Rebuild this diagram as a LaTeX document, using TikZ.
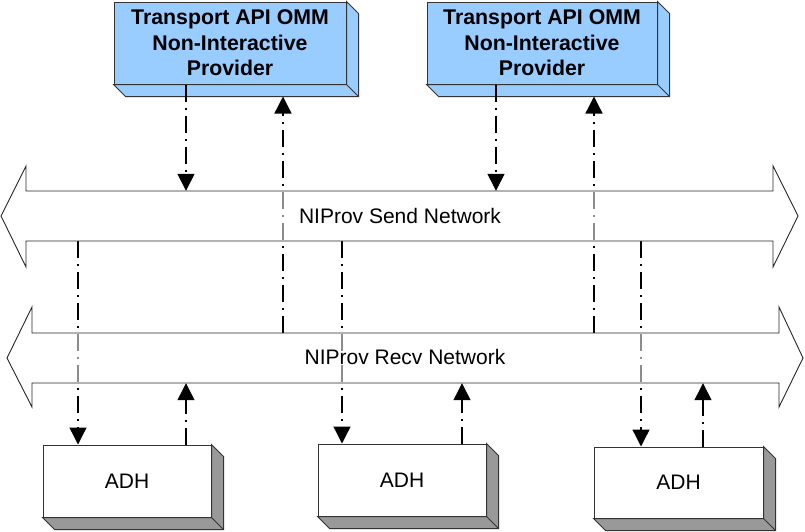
\documentclass[tikz,border=0pt]{standalone}
\usepackage{fontspec}
\setmainfont{Liberation Sans}
\usetikzlibrary{arrows.meta}
\definecolor{provblue}{HTML}{99CCFF}
\definecolor{edgegray}{HTML}{333333}
\definecolor{adhside}{HTML}{999999}
\tikzset{
  provbox/.style={draw=edgegray, fill=provblue, line width=1pt, minimum width=232pt, minimum height=82pt, inner sep=0pt, align=center, font=\fontsize{21.3}{25.5}\selectfont\bfseries},
  adhbox/.style={draw=edgegray, fill=white, line width=1pt, minimum width=168pt, minimum height=72pt, inner sep=0pt, font=\fontsize{21}{24}\selectfont},
  netshape/.style={draw=black!85, line width=0.9pt, fill=white, fill opacity=0.55, line join=miter},
  netlabel/.style={font=\fontsize{21}{24}\selectfont, inner sep=0pt},
  conn/.style={line width=1.3pt, dash pattern=on 17pt off 6pt on 2pt off 6pt, -{Triangle[width=17pt,length=17pt]}},
}
\newcommand\boxdepth[2]{%
  \draw[draw=edgegray, fill=#2, line width=1pt, line join=miter]
    (#1.north east) -- ++(12,12) -- ([shift={(12,12)}]#1.south east)
    -- ([shift={(12,12)}]#1.south west) -- (#1.south west) -- (#1.south east) -- cycle
    (#1.south east) -- ++(12,12);}
\begin{document}
\begin{tikzpicture}[x=1pt,y=-1pt]
\useasboundingbox (0,0) rectangle (805,531);

% providers
\node[provbox] (p1) at (230,43) {Transport API OMM\\Non-Interactive\\Provider};
\node[provbox, minimum width=230pt] (p2) at (542,43) {Transport API OMM\\Non-Interactive\\Provider};
\boxdepth{p1}{provblue}
\boxdepth{p2}{provblue}

% ADH boxes
\node[adhbox] (a1) at (127,481) {ADH};
\node[adhbox] (a2) at (402,480) {ADH};
\node[adhbox, minimum width=169pt, minimum height=71pt] (a3) at (678.5,482.5) {ADH};
\boxdepth{a1}{adhside}
\boxdepth{a2}{adhside}
\boxdepth{a3}{adhside}

% network shafts (invisible reference nodes)
\node[minimum width=747pt, minimum height=50pt, inner sep=0pt] (send) at (399.5,216) {};
\node[minimum width=747pt, minimum height=50pt, inner sep=0pt] (recv) at (405.5,358) {};

% connectors
\coordinate (p1b) at ([yshift=-12pt]p1.south);
\coordinate (p2b) at ([yshift=-12pt]p2.south);
\draw[conn] (186,0 |- p1.south) -- (186,0 |- send.north);
\draw[conn] (283,0 |- recv.north) -- (283,0 |- p1b);
\draw[conn] (496,0 |- p2.south) -- (496,0 |- send.north);
\draw[conn] (594,0 |- recv.north) -- (594,0 |- p2b);

\draw[conn] (78,0 |- send.south) -- (78,0 |- a1.north);
\draw[conn] (186,0 |- a1.north) -- (186,0 |- recv.south);
\draw[conn] (342,0 |- send.south) -- (342,0 |- a2.north);
\draw[conn] (462,0 |- a2.north) -- (462,0 |- recv.south);
\draw[conn] (641,0 |- send.south) -- (641,0 |- a3.north);
\draw[conn] (703,0 |- a3.north) -- (703,0 |- recv.south);

% network arrows
\draw[netshape] (1,216) -- (26,166) -- (26,191) -- (773,191) -- (773,166) -- (798,216)
  -- (773,267) -- (773,241) -- (26,241) -- (26,267) -- cycle;
\draw[netshape] (7,358) -- (32,307) -- (32,333) -- (779,333) -- (779,307) -- (803,358)
  -- (779,407) -- (779,383) -- (32,383) -- (32,407) -- cycle;
\node[netlabel] (sendlbl) at (400,216) {NIProv Send Network};
\node[netlabel] (recvlbl) at (405,357) {NIProv Recv Network};
\end{tikzpicture}
\end{document}
